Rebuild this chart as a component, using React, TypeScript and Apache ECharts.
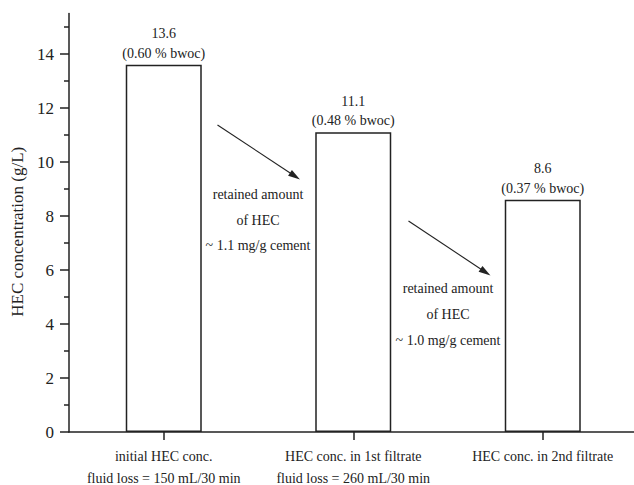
import React, { useEffect, useRef } from "react";
import * as echarts from "echarts";

const categories = [
  "initial HEC conc.\nfluid loss = 150 mL/30 min",
  "HEC conc. in 1st filtrate\nfluid loss = 260 mL/30 min",
  "HEC conc. in 2nd filtrate",
];
const concentrations = [13.6, 11.1, 8.6];
const bwoc = ["0.60", "0.48", "0.37"];
const majorTicks = [0, 2, 4, 6, 8, 10, 12, 14];
const minorTicks = [1, 3, 5, 7, 9, 11, 13, 15];
const annotations = [
  ["retained amount", "of HEC", "~ 1.1 mg/g cement"],
  ["retained amount", "of HEC", "~ 1.0 mg/g cement"],
];

const FONT = "Liberation Serif";
const INK = "#222";

function arrow(sx: number, sy: number, tx: number, ty: number) {
  const dx = tx - sx;
  const dy = ty - sy;
  const len = Math.sqrt(dx * dx + dy * dy);
  const ux = dx / len;
  const uy = dy / len;
  const hl = 12;
  const hw = 3.5;
  const bx = tx - ux * hl;
  const by = ty - uy * hl;
  return [
    {
      type: "line",
      shape: { x1: sx, y1: sy, x2: bx + ux * 2, y2: by + uy * 2 },
      style: { stroke: INK, lineWidth: 1.1 },
    },
    {
      type: "polygon",
      shape: {
        points: [
          [tx, ty],
          [bx - uy * hw, by + ux * hw],
          [bx + uy * hw, by - ux * hw],
        ],
      },
      style: { fill: INK },
    },
  ];
}

function textBlock(lines: string[], cx: number, ys: number[]) {
  return lines.map((t, i) => ({
    type: "text",
    x: cx,
    y: ys[i],
    style: {
      text: t,
      fill: INK,
      fontFamily: FONT,
      fontSize: 14,
      align: "center",
      verticalAlign: "middle",
    },
  }));
}

export default function App() {
  const ref = useRef<HTMLDivElement>(null);
  useEffect(() => {
    if (!ref.current) return;
    const chart = echarts.init(ref.current, null, { renderer: "svg" });
    chart.setOption({
      animation: false,
      backgroundColor: "#fff",
      textStyle: { fontFamily: FONT },
      grid: { left: 69, top: 13.5, width: 568.5, height: 418.5, outerBoundsMode: "none", containLabel: false },
      xAxis: {
        type: "category",
        data: categories,
        axisLine: { show: true, lineStyle: { color: INK, width: 1.5 } },
        axisTick: { show: true, alignWithLabel: true, length: 8, lineStyle: { color: INK, width: 1.5 } },
        axisLabel: {
          color: INK,
          fontFamily: FONT,
          fontSize: 14,
          lineHeight: 21.5,
          margin: 14,
          interval: 0,
        },
        splitLine: { show: false },
      },
      yAxis: [
        {
          type: "value",
          min: 0,
          max: 15.5,
          interval: 2,
          name: "HEC concentration (g/L)",
          nameLocation: "middle",
          nameGap: 38,
          nameTextStyle: { color: INK, fontFamily: FONT, fontSize: 17, padding: [0, 18, 0, 0] },
          axisLine: { show: true, lineStyle: { color: INK, width: 1.5 } },
          axisTick: { show: true, length: 9, customValues: majorTicks, lineStyle: { color: INK, width: 1.5 } },
          axisLabel: { color: INK, fontFamily: FONT, fontSize: 17, margin: 15, customValues: majorTicks },
          splitLine: { show: false },
        },
        {
          type: "value",
          position: "left",
          min: 0,
          max: 15.5,
          interval: 1,
          axisLine: { show: false },
          axisTick: { show: true, length: 5, customValues: minorTicks, lineStyle: { color: INK, width: 1.5 } },
          axisLabel: { show: false },
          splitLine: { show: false },
        },
      ],
      series: [
        {
          type: "bar",
          data: concentrations,
          barWidth: 76,
          itemStyle: { color: "#fff", borderColor: INK, borderWidth: 1.5 },
          label: {
            show: true,
            position: "top",
            distance: 2,
            color: INK,
            fontFamily: FONT,
            fontSize: 14,
            lineHeight: 19.5,
            formatter: (p: any) => `${concentrations[p.dataIndex]}\n(${bwoc[p.dataIndex]} % bwoc)`,
          },
        },
      ],
      graphic: [
        ...arrow(217.5, 125, 300, 179.5),
        ...arrow(408.5, 221, 490.5, 275.5),
        ...textBlock(annotations[0], 258, [194, 220, 245.5]),
        ...textBlock(annotations[1], 448, [288, 314, 340.5]),
      ],
    });
    return () => chart.dispose();
  }, []);
  return (
    <div
      ref={ref}
      style={{ position: "fixed", left: 0, top: 0, width: 634, height: 485 }}
    />
  );
}
